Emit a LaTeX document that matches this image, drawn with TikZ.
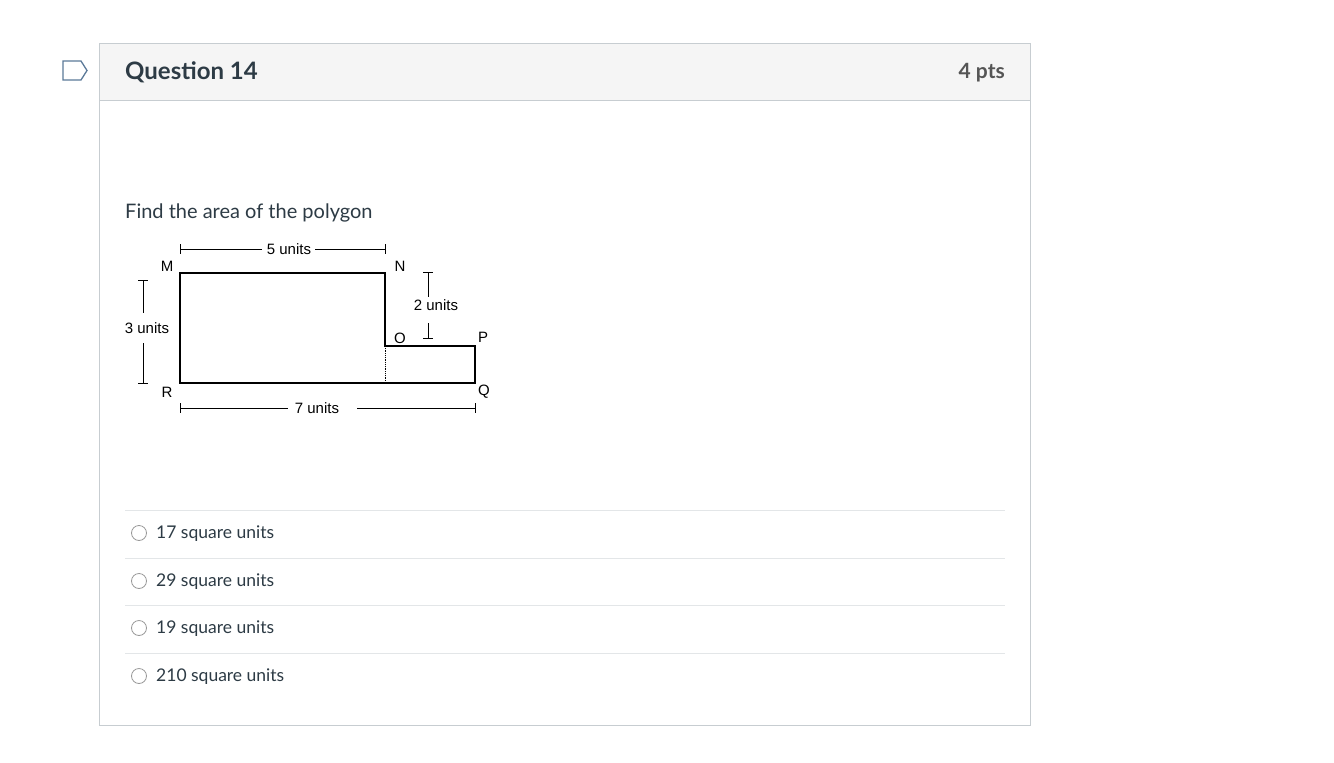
\documentclass[tikz,border=0pt]{standalone}
\usepackage{fontspec}
\setmainfont{Lato}
\newfontfamily\arialfont{Liberation Sans}
\definecolor{txt}{HTML}{2D3B45}
\definecolor{boxline}{HTML}{C7CDD1}
\definecolor{headfill}{HTML}{F5F5F5}
\definecolor{sepline}{HTML}{E3E6E8}
\definecolor{flagc}{HTML}{5C7A99}
\definecolor{ptsc}{HTML}{555555}
\tikzset{
  dim/.style={line width=1pt, black},
  poly/.style={line width=1.1pt, black},
  lbl/.style={font=\arialfont\fontsize{15}{17}\selectfont, inner sep=0pt},
  answer/.style={font=\fontsize{17.5}{20}\selectfont, text=txt, anchor=west, inner sep=0pt},
  radio/.style={draw=gray!80, line width=0.8pt, circle, minimum size=15pt, inner sep=0pt},
  sep/.style={draw=sepline, line width=0.8pt}
}
\begin{document}
\begin{tikzpicture}[x=1pt,y=-1pt]
\useasboundingbox (0,0) rectangle (1334,763);
\fill[white] (0,0) rectangle (1334,763);
% outer box and header
\fill[headfill] (99,43) rectangle (1030,100);
\draw[boxline, line width=1pt] (99,43) rectangle (1030,725);
\draw[boxline, line width=1pt] (99,100) -- (1030,100);
% flag icon
\draw[flagc, line width=1.3pt, line join=miter] (63,61) -- (81,61) -- (87,70.5) -- (81,80) -- (63,80) -- cycle;
\node[anchor=base west, inner sep=0pt, text=txt, font=\bfseries\fontsize{24}{28}\selectfont] (title) at (125,79) {Question 14};
\node[anchor=base east, inner sep=0pt, text=ptsc, font=\bfseries\fontsize{21}{25}\selectfont] (pts) at (1005,78) {4 pts};
\node[anchor=base west, inner sep=0pt, text=txt, font=\fontsize{20}{24}\selectfont] (q) at (125,218) {Find the area of the polygon};
% polygon
\coordinate (M) at (180,273);
\coordinate (N) at (385,273);
\coordinate (O) at (385,346);
\coordinate (P) at (475,346);
\coordinate (Q) at (475,383);
\coordinate (R) at (180,383);
\draw[poly] (M) -- (N) -- (O) -- (P) -- (Q) -- (R) -- cycle;
\draw[line width=0.8pt, densely dotted] (O) -- (385,383);
% vertex labels
\node[lbl] (lM) at (167,266) {M};
\node[lbl] (lN) at (400,266) {N};
\node[lbl] (lO) at (400,338) {O};
\node[lbl] (lP) at (483,337) {P};
\node[lbl] (lQ) at (484,392) {Q};
\node[lbl] (lR) at (167,392) {R};
% top dimension
\node[lbl] (d5) at (289,249) {5 units};
\draw[dim] (180,249) -- (262,249);
\draw[dim] (315,249) -- (385,249);
\draw[dim] (180,244) -- (180,254);
\draw[dim] (385,244) -- (385,254);
% left dimension
\node[lbl] (d3) at (147,328) {3 units};
\draw[dim] (143,280) -- (143,313);
\draw[dim] (143,343) -- (143,383);
\draw[dim] (138,280) -- (148,280);
\draw[dim] (138,383) -- (148,383);
% right dimension
\node[lbl] (d2) at (436,305) {2 units};
\draw[dim] (428,272) -- (428,297);
\draw[dim] (428,323) -- (428,338);
\draw[dim] (423,272) -- (433,272);
\draw[dim] (423,338) -- (433,338);
% bottom dimension
\node[lbl] (d7) at (317,408) {7 units};
\draw[dim] (180,408) -- (288,408);
\draw[dim] (357,408) -- (475,408);
\draw[dim] (180,403) -- (180,413);
\draw[dim] (475,403) -- (475,413);
% answers
\draw[sep] (125,510) -- (1005,510);
\draw[sep] (125,558) -- (1005,558);
\draw[sep] (125,605) -- (1005,605);
\draw[sep] (125,653) -- (1005,653);
\node[radio] (r1) at (139,533) {};
\node[radio] (r2) at (139,581) {};
\node[radio] (r3) at (139,628) {};
\node[radio] (r4) at (139,676) {};
\node[answer] (a1) at (156,534) {17 square units};
\node[answer] (a2) at (156,582) {29 square units};
\node[answer] (a3) at (156,629) {19 square units};
\node[answer] (a4) at (156,677) {210 square units};
\end{tikzpicture}
\end{document}
